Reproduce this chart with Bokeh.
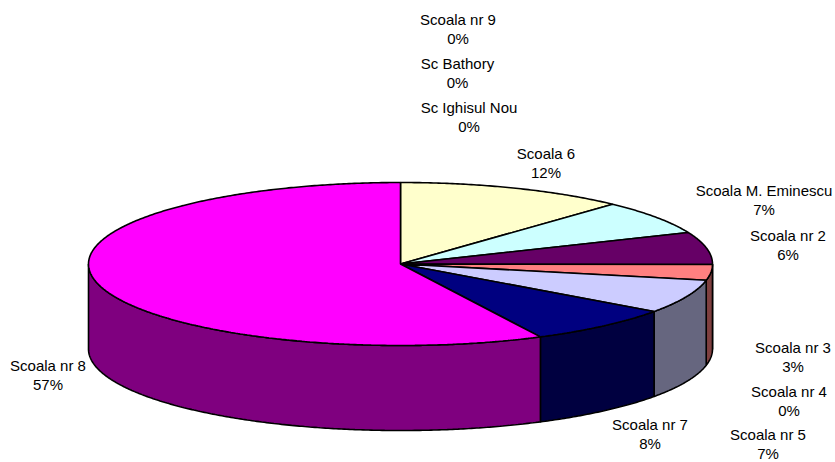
import numpy as np
from bokeh.plotting import figure
from bokeh.models import Range1d
from bokeh.core.properties import value
from bokeh.embed import file_html
from bokeh.resources import INLINE

categories = ["Scoala 6", "Scoala M. Eminescu", "Scoala nr 2", "Scoala nr 3", "Scoala nr 4",
              "Scoala nr 5", "Scoala nr 7", "Scoala nr 8", "Sc Ighisul Nou", "Sc Bathory", "Scoala nr 9"]
percent_values = [11.9, 6.8, 6.4, 3.1, 0.0, 6.7, 7.7, 57.4, 0.0, 0.0, 0.0]
percent_labels = ["12%", "7%", "6%", "3%", "0%", "7%", "8%", "57%", "0%", "0%", "0%"]
top_colors = ["#FFFFCC", "#CCFFFF", "#660066", "#FF8080", "#0066CC",
              "#CCCCFF", "#000080", "#FF00FF", "#CCFFCC", "#FFFF99", "#99CCFF"]

# layout (window pixels)
CX, CY, RX, RY, DEPTH = 400.0, 263.5, 312.0, 81.5, 85.0
label_x = [545.5, 763.5, 787.5, 792.5, 788.5, 767.5, 649.5, 47.5, 468.5, 457, 457.5]
label_y1 = [153, 190, 235, 347, 391, 434, 424, 365, 107, 63, 19]
label_gap = 19.0


def rim(a0, a1, dy=0.0):
    t = np.radians(np.linspace(a0, a1, max(2, int(abs(a1 - a0)) * 2 + 2)))
    return CX + RX * np.sin(t), CY - RY * np.cos(t) + dy


def darker(c):
    return "#" + "".join(f"{int(c[i:i+2], 16) // 2:02X}" for i in (1, 3, 5))


W, H = 835, 462
p = figure(width=W, height=H, output_backend="svg", toolbar_location=None,
           x_range=Range1d(0, W), y_range=Range1d(H, 0),
           x_axis_type=None, y_axis_type=None, min_border=0,
           outline_line_color=None)
p.grid.visible = False

edges = np.concatenate([[0.0], np.cumsum(percent_values)]) / sum(percent_values) * 360.0

# side wall: only the front half of the rim (90..270 degrees clockwise from top)
for i, col in enumerate(top_colors):
    a0, a1 = max(edges[i], 90.0), min(edges[i + 1], 270.0)
    if a1 - a0 <= 0:
        continue
    x0, y0 = rim(a0, a1)
    x1, y1 = rim(a1, a0, DEPTH)
    p.patch(np.r_[x0, x1], np.r_[y0, y1], fill_color=darker(col), line_color="black", line_width=1.6)

# top face
for i, col in enumerate(top_colors):
    a0, a1 = edges[i], edges[i + 1]
    if a1 - a0 <= 0:
        continue
    x, y = rim(a0, a1)
    p.patch(np.r_[CX, x], np.r_[CY, y], fill_color=col, line_color="black", line_width=1.6)

font = value("Liberation Sans")
p.text(label_x, label_y1, text=categories, text_font=font, text_font_size="15px",
       text_align="center", text_baseline="middle", text_color="black")
p.text(label_x, [y + label_gap for y in label_y1], text=percent_labels, text_font=font,
       text_font_size="15px", text_align="center", text_baseline="middle", text_color="black")

open("out.html", "w").write(file_html(p, INLINE))
